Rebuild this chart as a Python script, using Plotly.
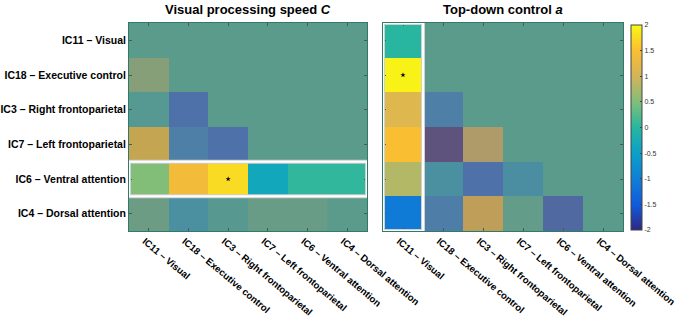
import plotly.graph_objects as go

# ---------------- data ----------------
labels = ["IC11 – Visual", "IC18 – Executive control", "IC3 – Right frontoparietal",
          "IC7 – Left frontoparietal", "IC6 – Ventral attention", "IC4 – Dorsal attention"]

speed_C = [
    [0.0, 0.0, 0.0, 0.0, 0.0, 0.0],
    [0.5, 0.0, 0.0, 0.0, 0.0, 0.0],
    [-0.15, -1.4, 0.0, 0.0, 0.0, 0.0],
    [1.6, -1.0, -1.4, 0.0, 0.0, 0.0],
    [0.5, 1.4, 1.75, -0.35, 0.05, 0.05],
    [0.2, -0.5, -0.1, 0.15, 0.15, 0.0],
]
control_a = [
    [0.0, 0.0, 0.0, 0.0, 0.0, 0.0],
    [1.95, 0.0, 0.0, 0.0, 0.0, 0.0],
    [1.15, -1.0, 0.0, 0.0, 0.0, 0.0],
    [1.5, -2.0, 1.0, 0.0, 0.0, 0.0],
    [0.8, -0.5, -1.4, -0.55, 0.0, 0.0],
    [-1.05, -1.05, 1.4, 0.1, -1.6, 0.0],
]
highlight_row_C = 4      # IC6 row highlighted in left panel
highlight_col_a = 0      # IC11 column highlighted in right panel
sig_C = [(4, 2)]
sig_a = [(1, 0)]
cbar_ticks = [2, 1.5, 1, 0.5, 0, -0.5, -1, -1.5, -2]
titles = ["<b>Visual processing speed <i>C</i></b>", "<b>Top-down control <i>a</i></b>"]

# ---------------- styling ----------------
parula_stops = [
    (0.0, (48, 38, 130)), (0.125, (16, 92, 220)), (0.25, (16, 126, 214)),
    (0.375, (10, 160, 200)), (0.5, (40, 182, 160)), (0.625, (130, 190, 120)),
    (0.75, (210, 180, 90)), (0.875, (250, 190, 50)), (1.0, (248, 248, 20)),
]
GRAY = (140, 128, 120)


def cs(blend=0.0):
    out = []
    for p, c in parula_stops:
        r, g, b = [round(c[i] * (1 - blend) + GRAY[i] * blend) for i in range(3)]
        out.append([p, f"rgb({r},{g},{b})"])
    return out


full_cs = cs(0.0)
faded_cs = cs(0.5)
n = len(labels)
idx = list(range(n))

fig = go.Figure()


def add_panel(z, mask, sig, xa, ya, showscale):
    faded = [[None if mask(i, j) else z[i][j] for j in idx] for i in idx]
    full = [[z[i][j] if mask(i, j) else None for j in idx] for i in idx]
    fig.add_trace(go.Heatmap(z=faded, x=idx, y=idx, zmin=-2, zmax=2, colorscale=faded_cs,
                             showscale=False, xaxis=xa, yaxis=ya, hoverongaps=False))
    fig.add_trace(go.Heatmap(z=full, x=idx, y=idx, zmin=-2, zmax=2, colorscale=full_cs,
                             showscale=showscale, xaxis=xa, yaxis=ya, hoverongaps=False,
                             colorbar=dict(x=631 / 680, xanchor="left", xpad=0, ypad=0,
                                           thickness=11, thicknessmode="pixels",
                                           len=205 / 322, lenmode="fraction",
                                           y=1 - 127.5 / 322, yanchor="middle",
                                           tickvals=cbar_ticks,
                                           ticktext=[str(t) for t in cbar_ticks],
                                           ticks="inside", ticklen=2, tickcolor="#444",
                                           tickfont=dict(size=7, color="#333"),
                                           outlinecolor="#444", outlinewidth=1)))
    fig.add_trace(go.Scatter(x=[s[1] for s in sig], y=[s[0] for s in sig], mode="markers",
                             marker=dict(symbol="star", size=4, color="black"),
                             xaxis=xa, yaxis=ya, showlegend=False, hoverinfo="skip"))


add_panel(speed_C, lambda i, j: i == highlight_row_C, sig_C, "x", "y", False)
add_panel(control_a, lambda i, j: j == highlight_col_a, sig_a, "x2", "y2", True)

axis_common = dict(range=[-0.5, 5.5], tickvals=idx, ticktext=labels, ticks="inside",
                   ticklen=3, tickcolor="#555", showline=True, mirror="ticks",
                   linecolor="#2f7a68", linewidth=1, showgrid=False, zeroline=False,
                   automargin=False, ticklabeloverflow="allow",
                   tickfont=dict(family="Liberation Sans", size=9.6, color="black",
                                 weight="bold"))
xextra = dict(tickangle=40, ticklabelshift=-4)
yfont = dict(family="Liberation Sans", size=10.5, color="black", weight="bold")
ydom = [1 - 231 / 322, 1 - 23 / 322]

fig.update_layout(
    template="none",
    width=680, height=322, margin=dict(l=0, r=0, t=0, b=0, autoexpand=False),
    paper_bgcolor="white", plot_bgcolor="white", showlegend=False,
    font=dict(family="Liberation Sans"),
    xaxis=dict(axis_common, domain=[129 / 680, 367 / 680], anchor="y", **xextra),
    yaxis=dict(axis_common, domain=ydom, anchor="x", range=[5.5, -0.5], tickfont=yfont),
    xaxis2=dict(axis_common, domain=[383 / 680, 623 / 680], anchor="y2", **xextra),
    yaxis2=dict(axis_common, domain=ydom, anchor="x2", range=[5.5, -0.5],
                showticklabels=False),
)

for k, t in enumerate(titles):
    cx = (248 if k == 0 else 503) / 680
    fig.add_annotation(text=t, xref="paper", yref="paper", x=cx, y=1 - 9 / 322,
                       xanchor="center", yanchor="middle", showarrow=False,
                       font=dict(family="Liberation Sans", size=13, color="black"))

# highlight frames
for col, w in (("#d0d0d0", 4), ("white", 2)):
    fig.add_shape(type="rect", xref="x", yref="y", x0=-0.5, x1=5.5,
                  y0=highlight_row_C - 0.5, y1=highlight_row_C + 0.5,
                  line=dict(color=col, width=w))
    fig.add_shape(type="rect", xref="x2", yref="y2", x0=highlight_col_a - 0.5,
                  x1=highlight_col_a + 0.5, y0=-0.5, y1=5.5,
                  line=dict(color=col, width=w))

fig.write_html("out.html", config={"displayModeBar": False},
               post_script="document.body.style.margin='0';document.body.style.overflow='hidden';")
